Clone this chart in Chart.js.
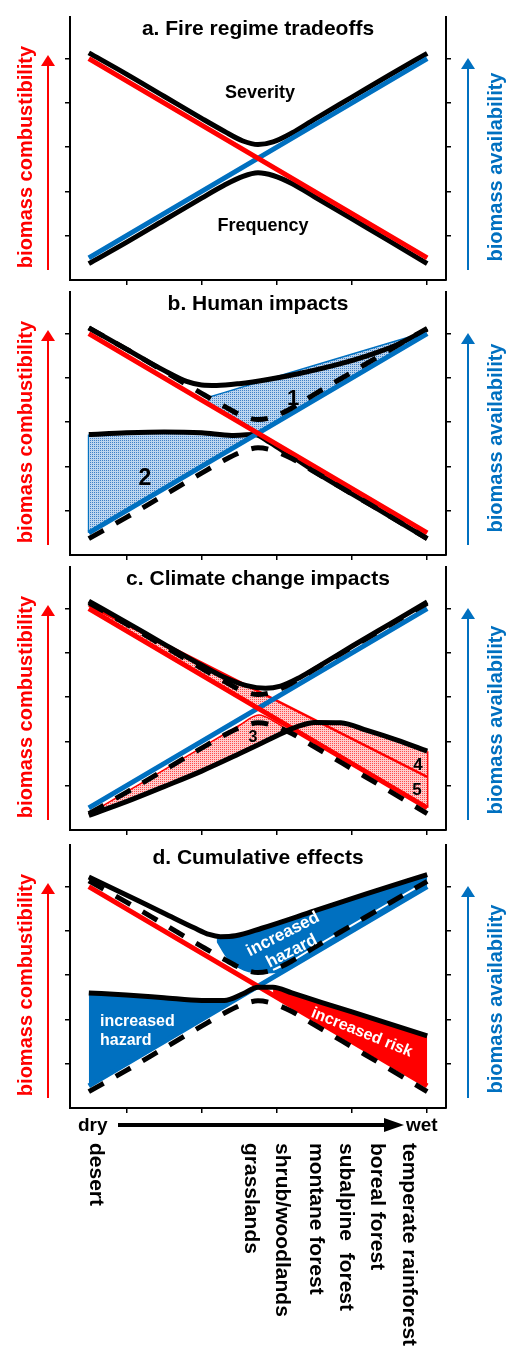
<!DOCTYPE html>
<html>
<head>
<meta charset="utf-8">
<script src="https://cdn.jsdelivr.net/npm/chart.js@4"></script>
<style>
  html, body { margin:0; padding:0; background:#fff; }
  #page { position:relative; width:507px; height:1347px; overflow:hidden; }
  canvas { position:absolute; left:0; }
  .t { position:absolute; font-family:'Liberation Sans', Arial, sans-serif; font-weight:bold; white-space:nowrap; line-height:1; }
  .c { transform:translate(-50%,-50%); }
  .vl { transform:translate(-50%,-50%) rotate(-90deg); font-size:20px; }
  .dn { transform-origin:0 50%; transform:rotate(90deg); font-size:21px; line-height:20px; }
  .ttl { font-size:21px; color:#000; }
  .w { color:#fff; font-size:16px; }
</style>
</head>
<body>
<div id="page">
  <canvas id="ca" width="507" height="282" style="top:5px"></canvas>
  <canvas id="cb" width="507" height="282" style="top:280px"></canvas>
  <canvas id="cc" width="507" height="282" style="top:555px"></canvas>
  <canvas id="cd" width="507" height="282" style="top:833px"></canvas>
  <svg id="deco" width="507" height="1347" style="position:absolute;left:0;top:0"></svg>

  <!-- titres des panneaux -->
  <div class="t c ttl" style="left:258px;top:27px">a. Fire regime tradeoffs</div>
  <div class="t c ttl" style="left:258px;top:302px">b. Human impacts</div>
  <div class="t c ttl" style="left:258px;top:577px">c. Climate change impacts</div>
  <div class="t c ttl" style="left:258px;top:856px">d. Cumulative effects</div>

  <!-- annotations -->
  <div class="t c" style="left:260px;top:92px;font-size:18px">Severity</div>
  <div class="t c" style="left:263px;top:225px;font-size:18px">Frequency</div>
  <div class="t c" style="left:293px;top:398px;font-size:22px">1</div>
  <div class="t c" style="left:145px;top:477px;font-size:23px">2</div>
  <div class="t c" style="left:253px;top:737px;font-size:16px">3</div>
  <div class="t c" style="left:418px;top:764px;font-size:17px">4</div>
  <div class="t c" style="left:417px;top:789px;font-size:17px">5</div>
  <div class="t w" style="left:287px;top:942px;text-align:center;line-height:19px;font-size:17px;transform:translate(-50%,-50%) rotate(-27deg)">increased<br>hazard</div>
  <div class="t w" style="left:100px;top:1011px;line-height:19px">increased<br>hazard</div>
  <div class="t w" style="left:362px;top:1032px;transform:translate(-50%,-50%) rotate(22deg)">increased risk</div>

  <!-- axe sec / humide -->
  <div class="t" style="left:78px;top:1115px;font-size:19px">dry</div>
  <div class="t" style="left:406px;top:1115px;font-size:19px">wet</div>
  <div class="t dn" style="left:97px;top:1133px">desert</div>
  <div class="t dn" style="left:252px;top:1133px">grasslands</div>
  <div class="t dn" style="left:283px;top:1133px">shrub/woodlands</div>
  <div class="t dn" style="left:317px;top:1133px">montane forest</div>
  <div class="t dn" style="left:347px;top:1133px">subalpine&nbsp; forest</div>
  <div class="t dn" style="left:378px;top:1133px">boreal forest</div>
  <div class="t dn" style="left:410px;top:1133px">temperate rainforest</div>
</div>

<script>
// ===== Données =====
// axe x : gradient sec -> humide, y : 0..5.94
const TICKS = [1, 2, 3, 4, 5];
const lineX = [0.5, 5];
const combustY = [5, 0.5];     // rouge : combustibilité
const availY = [0.5, 5];       // bleu : disponibilité

// a. courbes de base (reprises en pointillés ensuite)
const sevX = [0.5, 1.0, 1.5, 2.0, 2.3, 2.55, 2.75, 2.95, 3.2, 3.5, 4.0, 4.5, 5.0];
const sevY = [5.13, 4.65, 4.15, 3.65, 3.36, 3.14, 3.06, 3.12, 3.32, 3.63, 4.13, 4.63, 5.12];
const freqY = [0.37, 0.85, 1.35, 1.85, 2.14, 2.34, 2.42, 2.36, 2.18, 1.88, 1.38, 0.88, 0.37];

// b. impacts humains
const humUpX = [0.5, 1.0, 1.5, 1.8, 2.0, 2.2, 2.5, 2.9, 3.3, 3.8, 4.2, 4.6, 5.0];
const humUpY = [5.13, 4.65, 4.17, 3.92, 3.84, 3.83, 3.87, 3.97, 4.1, 4.3, 4.5, 4.75, 5.1];
const humLowX = [0.5, 1.0, 1.5, 2.0, 2.4, 2.7, 2.9, 3.1, 3.3, 3.5, 4.0, 4.5, 5.0];
const humLowY = [2.72, 2.76, 2.78, 2.76, 2.7, 2.72, 2.55, 2.33, 2.12, 1.89, 1.38, 0.88, 0.37];
const zone1X = [2.07, 2.75, 4.85];
const zone1Top = [3.55, 3.9, 4.97];
const zone1Base = [3.43, 2.75, 4.85];
const zone2X = [0.5, 1.0, 1.5, 2.0, 2.4, 2.75];
const zone2Top = [2.72, 2.76, 2.78, 2.76, 2.7, 2.75];
const zone2Base = [0.5, 1.0, 1.5, 2.0, 2.4, 2.75];
const edge2X = [0.5, 0.5];
const edge2Y = [0.5, 2.72];

// c. changement climatique
const climUpX = [0.5, 1.0, 1.5, 2.0, 2.3, 2.6, 2.85, 3.05, 3.3, 3.6, 4.0, 4.5, 5.0];
const climUpY = [5.17, 4.69, 4.2, 3.72, 3.45, 3.26, 3.2, 3.25, 3.44, 3.74, 4.15, 4.65, 5.15];
const climLowX = [0.5, 1.0, 1.5, 2.0, 2.5, 2.76, 3.0, 3.15, 3.3, 3.5, 3.85, 4.2, 4.6, 5.0];
const climLowY = [0.33, 0.64, 0.98, 1.33, 1.72, 1.93, 2.13, 2.25, 2.35, 2.43, 2.42, 2.25, 2.03, 1.78];
const warmY = [5.07, 1.2];
const zone3X = [0.5, 1.0, 1.5, 2.0, 2.5, 2.76, 3.0, 3.15];
const zone3Top = [0.36, 0.86, 1.36, 1.86, 2.36, 2.6, 2.42, 2.25];
const zone3Base = [0.33, 0.64, 0.98, 1.33, 1.72, 1.93, 2.13, 2.25];
const zone4X = [3.55, 3.85, 4.2, 4.6, 5.0];
const zone4Top = [2.45, 2.42, 2.25, 2.03, 1.78];
const zone4Base = [2.45, 2.19, 1.89, 1.54, 1.2];
const edge4X = [5, 5];
const edge4Y = [0.5, 1.78];

// d. effets cumulés
const cumUpX = [0.5, 1.0, 1.5, 1.9, 2.1, 2.25, 2.45, 2.8, 3.5, 4.2, 5.0];
const cumUpY = [5.22, 4.81, 4.4, 4.07, 3.92, 3.87, 3.89, 4.06, 4.45, 4.84, 5.27];
const cumLowX = [0.5, 1.0, 1.5, 2.0, 2.3, 2.55, 2.75, 2.95, 3.2, 3.6, 4.0, 4.5, 5.0];
const cumLowY = [2.6, 2.55, 2.49, 2.43, 2.43, 2.58, 2.73, 2.73, 2.6, 2.38, 2.17, 1.9, 1.63];
const hazUpX = [2.2, 2.35, 2.5, 2.75, 3.0, 3.5, 4.0, 4.5, 5.0];
const hazUpTop = [3.89, 3.87, 3.9, 4.03, 4.17, 4.45, 4.73, 5.0, 5.27];
const hazUpBase = [3.75, 3.35, 3.15, 3.04, 3.05, 3.5, 4.0, 4.5, 5.0];
const hazLowX = [0.5, 1.0, 1.5, 2.0, 2.3, 2.55, 2.7];
const hazLowTop = [2.6, 2.55, 2.49, 2.43, 2.43, 2.58, 2.7];
const hazLowBase = [0.5, 1.0, 1.5, 2.0, 2.3, 2.55, 2.7];
const riskX = [2.95, 3.2, 3.6, 4.0, 4.5, 5.0];
const riskTop = [2.73, 2.6, 2.38, 2.17, 1.9, 1.63];
const riskBase = [2.55, 2.3, 1.9, 1.5, 1.0, 0.5];

// ===== Styles =====
const RED = '#ff0000', BLUE = '#0070c0', BLACK = '#000000';
const DASH = [17, 14];

const pts = (xs, ys) => xs.map((x, i) => ({ x, y: ys[i] }));

function line(xs, ys, color, width, extra){
  return Object.assign({
    data: pts(xs, ys), borderColor: color, borderWidth: width,
    pointRadius: 0, fill: false, cubicInterpolationMode: 'monotone',
    borderJoinStyle: 'round'
  }, extra || {});
}
const dashed = (xs, ys) => line(xs, ys, BLACK, 5, { borderDash: DASH });
const area = (xs, ys, bg, border, bw) => line(xs, ys, border || 'rgba(0,0,0,0)', bw || 0, { fill: '+1', backgroundColor: bg });
const base = (xs, ys) => line(xs, ys, 'rgba(0,0,0,0)', 0);

// motif pointillé pour les zones hachurées
function dotPattern(bg, dot){
  const tile = document.createElement('canvas');
  tile.width = 2; tile.height = 2;
  const g = tile.getContext('2d');
  g.fillStyle = bg; g.fillRect(0, 0, 2, 2);
  g.fillStyle = dot; g.fillRect(0, 0, 1, 1);
  return document.getElementById('cb').getContext('2d').createPattern(tile, 'repeat');
}
const BLUE_DOTS = dotPattern('#bcd5ef', '#3f80c6');
const PINK_DOTS = dotPattern('#ffcccc', '#ff4a4a');

function axis(position, min, max){
  return {
    type: 'linear', position, min, max,
    afterBuildTicks: s => { s.ticks = TICKS.map(v => ({ value: v })); },
    ticks: { display: false },
    grid: { drawOnChartArea: false, drawTicks: true, tickLength: 5, color: BLACK, lineWidth: 1.5 },
    border: { color: BLACK, width: 2 }
  };
}

function makeChart(id, datasets){
  return new Chart(document.getElementById(id), {
    type: 'line',
    data: { datasets },
    options: {
      responsive: false,
      animation: false,
      layout: { padding: { left: 65, right: 56, top: 12, bottom: 2 } },
      plugins: { legend: { display: false }, tooltip: { enabled: false } },
      scales: {
        x: axis('bottom', 0.25, 5.25),
        y: axis('left', 0, 5.94),
        y2: axis('right', 0, 5.94)
      }
    }
  });
}

// ===== Panneaux (premier jeu = dessiné au-dessus) =====
makeChart('ca', [
  line(lineX, combustY, RED, 5),
  line(lineX, availY, BLUE, 5),
  line(sevX, sevY, BLACK, 5),
  line(sevX, freqY, BLACK, 5)
]);

makeChart('cb', [
  dashed(sevX, sevY),
  dashed(sevX, freqY),
  line(lineX, combustY, RED, 5),
  line(lineX, availY, BLUE, 5),
  line(humUpX, humUpY, BLACK, 5),
  line(humLowX, humLowY, BLACK, 5),
  area(zone1X, zone1Top, BLUE_DOTS, BLUE, 1.5), Object.assign(base(zone1X, zone1Base), { cubicInterpolationMode: 'default', tension: 0 }),
  area(zone2X, zone2Top, BLUE_DOTS, BLUE, 1.5), base(zone2X, zone2Base),
  line(edge2X, edge2Y, BLUE, 2)
]);

makeChart('cc', [
  dashed(sevX, sevY),
  dashed(sevX, freqY),
  line(climUpX, climUpY, BLACK, 5),
  line(climLowX, climLowY, BLACK, 5),
  line(lineX, combustY, RED, 5),
  line(lineX, availY, BLUE, 5),
  area(lineX, warmY, PINK_DOTS, RED, 2.5), base(lineX, combustY),
  area(zone4X, zone4Top, PINK_DOTS, RED, 2), base(zone4X, zone4Base),
  area(zone3X, zone3Top, PINK_DOTS, RED, 1.5), base(zone3X, zone3Base),
  line(edge4X, edge4Y, RED, 2.5)
]);

makeChart('cd', [
  dashed(sevX, sevY),
  dashed(sevX, freqY),
  line(sevX.slice(7), sevY.slice(7), '#ffffff', 2),
  line(cumUpX, cumUpY, BLACK, 5),
  line(cumLowX, cumLowY, BLACK, 5),
  line(lineX, combustY, RED, 5),
  line(lineX, availY, BLUE, 5),
  area(hazUpX, hazUpTop, BLUE), base(hazUpX, hazUpBase),
  area(riskX, riskTop, RED), base(riskX, riskBase),
  area(hazLowX, hazLowTop, BLUE), base(hazLowX, hazLowBase)
]);

// ===== Flèches et titres d'axes verticaux =====
const panelTops = [17, 292, 567, 845];
const panelBottoms = [280, 555, 830, 1108];
const leftShift = [8, 8, 8.5, 8.5];
const rightShift = [18, 14, 21, 22];

const svg = document.getElementById('deco');
const NS = 'http://www.w3.org/2000/svg';
function el(tag, attrs){
  const e = document.createElementNS(NS, tag);
  for (const k in attrs) e.setAttribute(k, attrs[k]);
  svg.appendChild(e);
}
function vArrow(x, tip, bottom, color){
  el('line', { x1: x, y1: bottom, x2: x, y2: tip + 9, stroke: color, 'stroke-width': 2 });
  el('polygon', { points: `${x},${tip} ${x - 7},${tip + 11} ${x + 7},${tip + 11}`, fill: color });
}
const page = document.getElementById('page');
panelTops.forEach((T, i) => {
  const B = panelBottoms[i];
  vArrow(48, T + 38, B - 10, RED);
  vArrow(468, T + 41, B - 10, BLUE);
  const l = document.createElement('div');
  l.className = 't vl';
  l.style.cssText = `left:25px;top:${(T + B) / 2 + leftShift[i]}px;color:${RED}`;
  l.textContent = 'biomass combustibility';
  page.appendChild(l);
  const r = document.createElement('div');
  r.className = 't vl';
  r.style.cssText = `left:495px;top:${(T + B) / 2 + rightShift[i]}px;color:${BLUE}`;
  r.textContent = 'biomass availability';
  page.appendChild(r);
});
// flèche sec -> humide
el('line', { x1: 118, y1: 1125, x2: 390, y2: 1125, stroke: BLACK, 'stroke-width': 4 });
el('polygon', { points: '404,1125 384,1118 384,1132', fill: BLACK });
</script>
</body>
</html>
